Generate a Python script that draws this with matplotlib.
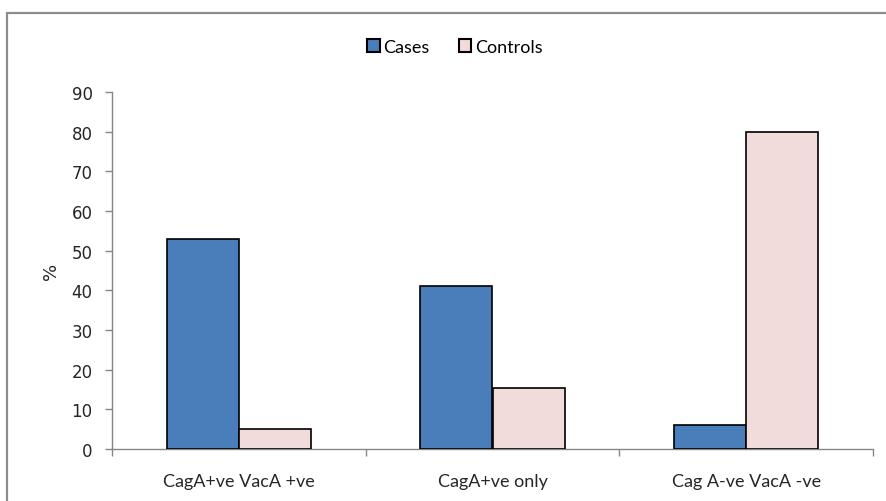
import matplotlib
matplotlib.use("Agg")
import matplotlib.pyplot as plt
from matplotlib.patches import Rectangle, Patch
import numpy as np

plt.rcParams["font.family"] = ["Lato", "DejaVu Sans"]

categories = ["CagA+ve VacA +ve", "CagA+ve only", "Cag A-ve VacA -ve"]
cases = [53, 41, 6]
controls = [5, 15.5, 80]
yticks = [0, 10, 20, 30, 40, 50, 60, 70, 80, 90]

W, H = 886, 502
fig = plt.figure(figsize=(W / 100, H / 100), dpi=100)
fig.patch.set_facecolor("white")

# outer chart-area frame
fig.patches.append(Rectangle((7 / W, -0.1), 1.1, (H - 14) / H + 0.1,
                             transform=fig.transFigure, fill=False,
                             edgecolor="#8c8c8c", linewidth=1.6))

ax = fig.add_axes([112 / W, (H - 450) / H, (873 - 112) / W, (450 - 93) / H])

blue = "#4a7ebb"
pink = "#f2dcdb"
txt = "#262626"
x = np.arange(len(categories))
bw = 0.285
ax.bar(x - bw / 2, cases, bw, color=blue, edgecolor="black", linewidth=1.2,
       label="Cases", zorder=3)
ax.bar(x + bw / 2, controls, bw, color=pink, edgecolor="black", linewidth=1.2,
       label="Controls", zorder=3)

ax.set_xlim(-0.5, len(categories) - 0.5)
ax.set_ylim(0, 90)
ax.set_yticks(yticks)
ax.set_yticklabels([str(t) for t in yticks], fontsize=12, color=txt,
                   family="DejaVu Sans")

ax.set_xticks(x)
ax.set_xticklabels(categories, fontsize=13, color=txt)
ax.tick_params(axis="x", which="major", length=0, pad=17)
ax.set_xticks(np.arange(-0.5, len(categories)), minor=True)
ax.tick_params(axis="x", which="minor", length=5, color="#868686", width=1)
ax.tick_params(axis="y", length=5, color="#868686", width=1, pad=9)

for s in ["top", "right"]:
    ax.spines[s].set_visible(False)
for s in ["left", "bottom"]:
    ax.spines[s].set_color("#868686")
    ax.spines[s].set_linewidth(1)

ax.set_ylabel("%", fontsize=13, color=txt, labelpad=8, family="DejaVu Sans")

handles = [Patch(facecolor=blue, edgecolor="black", linewidth=1.5),
           Patch(facecolor=pink, edgecolor="black", linewidth=1.5)]
fig.legend(handles, ["Cases", "Controls"], loc="center",
           bbox_to_anchor=(455 / W, (H - 48) / H), ncol=2, frameon=False,
           fontsize=13, handlelength=0.7, handleheight=0.7,
           handletextpad=0.2, columnspacing=1.6)

fig.savefig("out.png", dpi=100, facecolor="white")
